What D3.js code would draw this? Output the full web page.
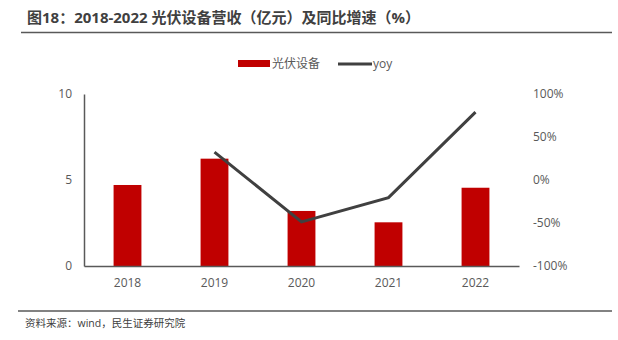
<!DOCTYPE html>
<html>
<head>
<meta charset="utf-8">
<script src="https://cdn.jsdelivr.net/npm/d3@7"></script>
<style>
  body { margin: 0; background: #fff; }
  text { font-family: "Open Sans", "Noto Sans CJK SC", sans-serif; }
</style>
</head>
<body>
<div id="chart"></div>
<script>
const width = 618;
const height = 340;

// data
const years = ["2018", "2019", "2020", "2021", "2022"];
const revenue = [4.71, 6.24, 3.2, 2.54, 4.55]; // 亿元
const yoy = [null, 32.5, -48.7, -20.5, 79]; // %
const leftTicks = [0, 5, 10];
const rightTicks = [-100, -50, 0, 50, 100];

const margin = { top: 94, right: 99, bottom: 74, left: 84 };

const svg = d3.select("#chart").append("svg")
  .attr("width", width)
  .attr("height", height);

// title
svg.append("text")
  .attr("x", 27)
  .attr("y", 23)
  .attr("font-size", 15)
  .attr("font-weight", "bold")
  .attr("fill", "#404040")
  .attr("font-family", "'Noto Sans CJK SC', sans-serif")
  .text("图18：2018-2022 光伏设备营收（亿元）及同比增速（%）");

svg.append("line")
  .attr("x1", 21).attr("x2", 612)
  .attr("y1", 32.5).attr("y2", 32.5)
  .attr("stroke", "#595959")
  .attr("stroke-width", 1.5);

const x = d3.scaleBand()
  .domain(years)
  .range([margin.left, width - margin.right])
  .paddingInner(0.68)
  .paddingOuter(0.34);

const yL = d3.scaleLinear()
  .domain([0, 10])
  .range([height - margin.bottom, margin.top]);

const yR = d3.scaleLinear()
  .domain([-100, 100])
  .range([height - margin.bottom, margin.top]);

// bars
svg.append("g")
  .selectAll("rect")
  .data(years)
  .join("rect")
    .attr("x", d => x(d))
    .attr("width", x.bandwidth())
    .attr("y", (d, i) => yL(revenue[i]))
    .attr("height", (d, i) => yL(0) - yL(revenue[i]))
    .attr("fill", "#c00000");

// left axis
const axL = svg.append("g")
  .attr("transform", `translate(${margin.left},0)`)
  .call(d3.axisLeft(yL).tickValues(leftTicks).tickSize(0).tickPadding(12));
axL.select(".domain").attr("stroke", "#595959").attr("stroke-width", 1.5);
axL.selectAll("text").attr("font-size", 12).attr("fill", "#595959");

// right axis (labels only)
const axR = svg.append("g")
  .attr("transform", `translate(${width - margin.right},0)`)
  .call(d3.axisRight(yR).tickValues(rightTicks).tickSize(0).tickPadding(14)
    .tickFormat(d => d + "%"));
axR.select(".domain").remove();
axR.selectAll("text").attr("font-size", 12).attr("fill", "#595959");

// x axis
const axX = svg.append("g")
  .attr("transform", `translate(0,${yL(0)})`)
  .call(d3.axisBottom(x).tickSize(0).tickPadding(12));
axX.select(".domain").attr("stroke", "#595959").attr("stroke-width", 1.5);
axX.selectAll("text").attr("font-size", 12).attr("fill", "#595959");

// yoy line
const line = d3.line()
  .defined(d => d[1] != null)
  .x(d => x(d[0]) + x.bandwidth() / 2)
  .y(d => yR(d[1]));

svg.append("path")
  .datum(years.map((y, i) => [y, yoy[i]]))
  .attr("fill", "none")
  .attr("stroke", "#404040")
  .attr("stroke-width", 3)
  .attr("d", line);

// legend
const lg = svg.append("g").attr("font-size", 12).attr("fill", "#595959");
lg.append("rect")
  .attr("x", 238).attr("y", 60)
  .attr("width", 32).attr("height", 7)
  .attr("fill", "#c00000");
lg.append("text")
  .attr("x", 272).attr("y", 64)
  .attr("dy", "0.35em")
  .attr("fill", "#595959")
  .attr("font-family", "'Noto Sans CJK SC', sans-serif")
  .text("光伏设备");
lg.append("line")
  .attr("x1", 338).attr("x2", 372)
  .attr("y1", 64).attr("y2", 64)
  .attr("stroke", "#404040")
  .attr("stroke-width", 3);
lg.append("text")
  .attr("x", 373).attr("y", 64)
  .attr("dy", "0.35em")
  .attr("fill", "#595959")
  .text("yoy");

// source
svg.append("line")
  .attr("x1", 18).attr("x2", 612)
  .attr("y1", 311).attr("y2", 311)
  .attr("stroke", "#595959")
  .attr("stroke-width", 1.5);

svg.append("text")
  .attr("x", 25)
  .attr("y", 323)
  .attr("dy", "0.35em")
  .attr("font-size", 10.5)
  .attr("fill", "#404040")
  .attr("font-family", "'Noto Sans CJK SC', sans-serif")
  .text("资料来源：wind，民生证券研究院");
</script>
</body>
</html>
